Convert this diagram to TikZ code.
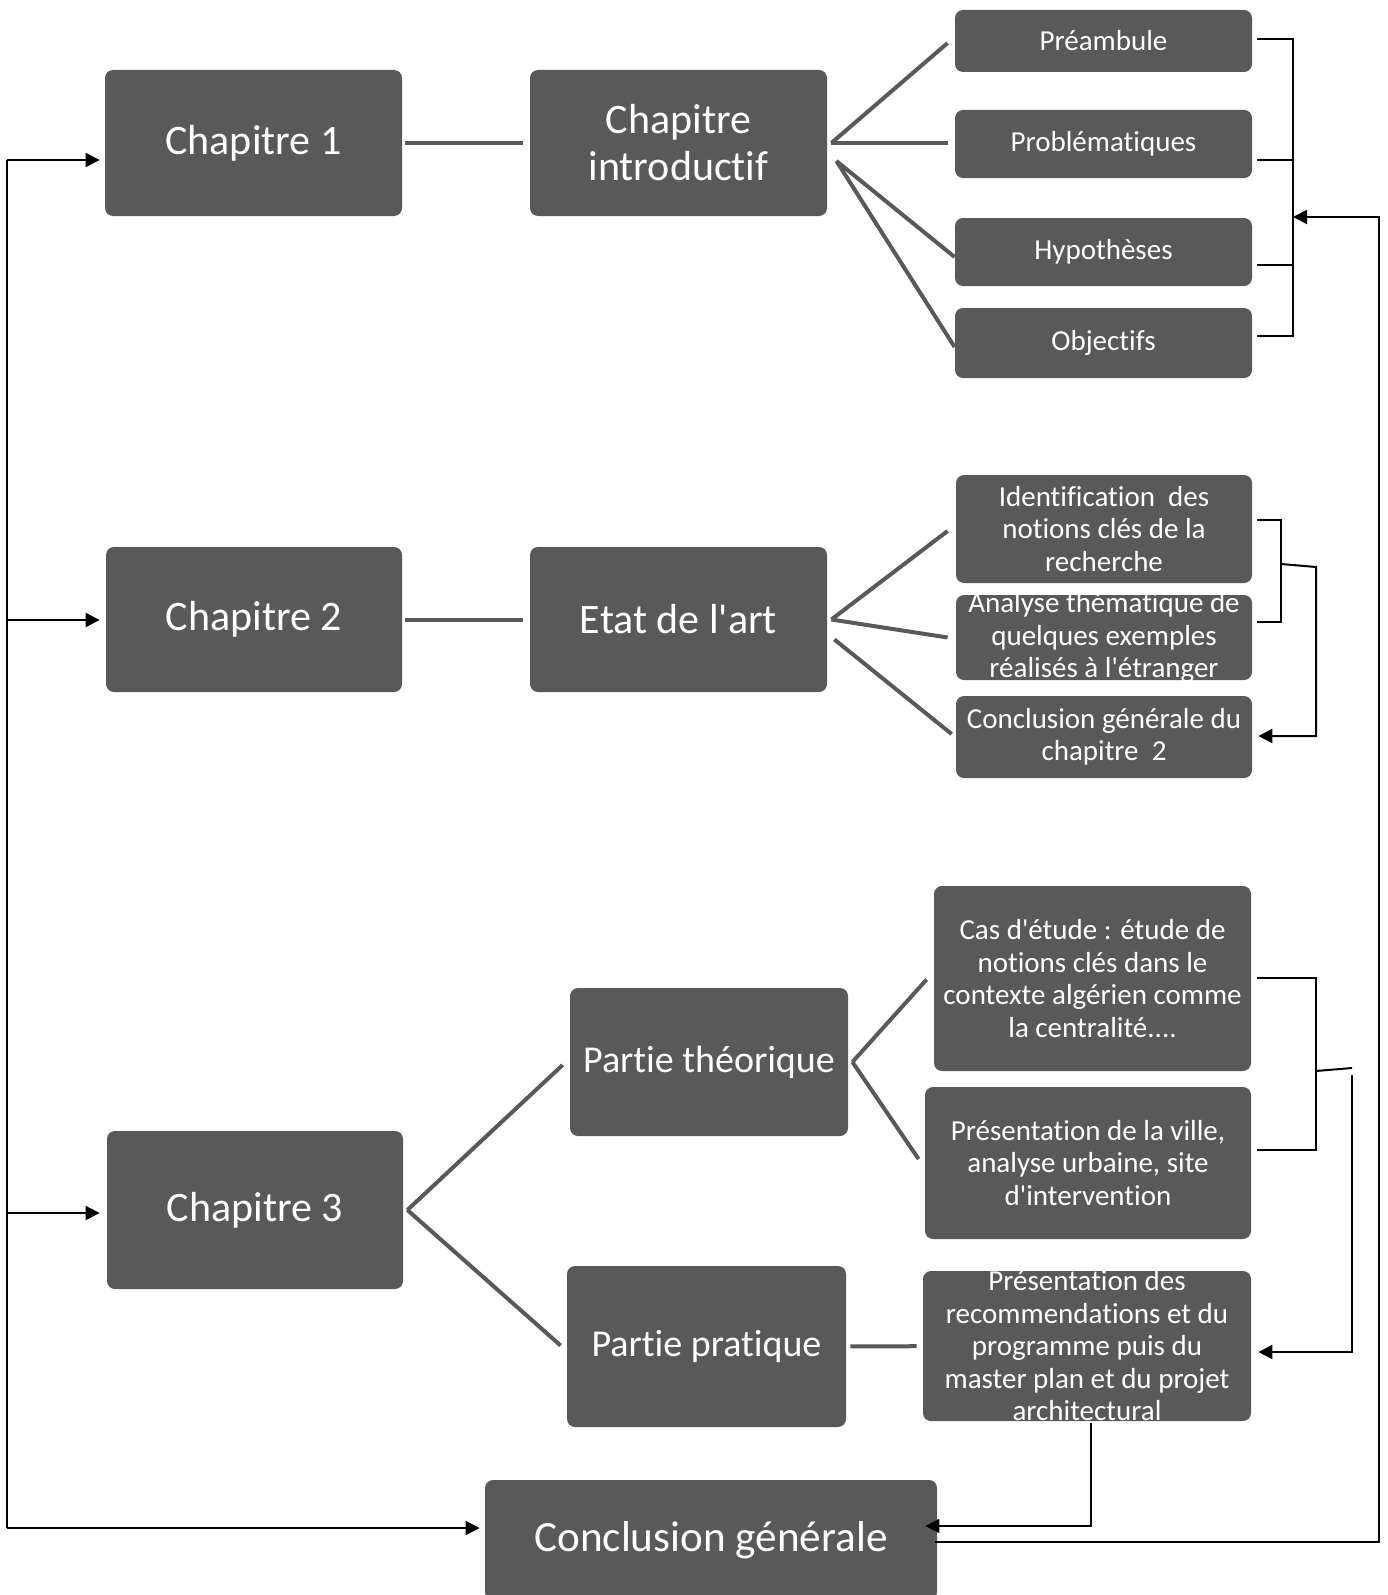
\documentclass[tikz,border=0pt]{standalone}
\usepackage{fontspec}
\setmainfont{Carlito}[Ligatures={TeXOff,CommonOff}]
\usetikzlibrary{arrows.meta}
\definecolor{boxgray}{HTML}{595959}
\begin{document}
\begin{tikzpicture}[x=0.5pt,y=-0.5pt,
  box/.style={fill=boxgray,rounded corners=4pt,inner sep=0pt,text=white,align=center},
  boxsize/.style 2 args={minimum width=#1*0.5pt,minimum height=#2*0.5pt},
  big/.style={font=\fontsize{21}{23.5}\selectfont},
  mid/.style={font=\fontsize{19}{21}\selectfont},
  small/.style={font=\fontsize{14.5}{16.25}\selectfont},
  link/.style={draw=boxgray,line width=2pt},
  wire/.style={draw=black,line width=1pt},
  headarrow/.style={-{Triangle[length=7pt,width=7pt]}}]
\useasboundingbox (0,0) rectangle (1387,1595);

\node[box,big,boxsize={297}{146}] (ch1) at (253.5,143) {Chapitre 1};
\node[box,big,boxsize={297}{146}] (intro) at (678.5,143) {Chapitre\\introductif};
\node[box,small,boxsize={297}{62}] (pre) at (1103.5,41) {Préambule};
\node[box,small,boxsize={297}{68}] (prob) at (1103.5,144) {Problématiques};
\node[box,small,boxsize={297}{68}] (hyp) at (1103.5,252) {Hypothèses};
\node[box,small,boxsize={297}{70}] (obj) at (1103.5,343) {Objectifs};

\node[box,big,boxsize={296}{145}] (ch2) at (254,619.5) {Chapitre 2};
\node[box,big,boxsize={297}{145}] (etat) at (678.5,619.5) {Etat de l'art};
\node[box,small,boxsize={296}{108}] (ident) at (1104,529) {Identification~ des\\notions clés de la\\recherche};
\node[box,boxsize={296}{85}] (analyse) at (1104,637.5) {};
\node[small,text=white,align=center] (analyse-txt) at (analyse) {Analyse thématique de\\quelques exemples\\réalisés à l'étranger};
\node[box,small,boxsize={296}{82}] (concl2) at (1104,737) {Conclusion générale du\\chapitre~ 2};

\node[box,big,boxsize={296}{158}] (ch3) at (255,1210) {Chapitre 3};
\node[box,mid,boxsize={278}{148}] (theo) at (709,1062) {Partie théorique};
\node[box,mid,boxsize={279}{161}] (prat) at (706.5,1346.5) {Partie pratique};
\node[box,small,boxsize={317}{185}] (cas) at (1092.5,978.5) {Cas d'étude : étude de\\notions clés dans le\\contexte algérien comme\\la centralité....};
\node[box,small,boxsize={326}{152}] (ville) at (1088,1163) {Présentation de la ville,\\analyse urbaine, site\\d'intervention};
\node[box,boxsize={328}{150}] (recom) at (1087,1346) {};
\node[small,text=white,align=center] (recom-txt) at (recom) {Présentation des\\recommendations et du\\programme puis du\\master plan et du projet\\architectural};
\node[box,font=\fontsize{21.6}{26}\selectfont,boxsize={452}{120}] (conclg) at (711,1540) {Conclusion générale};

\coordinate (introhi) at ([xshift=2pt]intro.east);
\coordinate (introlow) at ([shift={(9,18)}]intro.east);
\coordinate (etathi) at ([xshift=2pt]etat.east);
\coordinate (etatlow) at ([shift={(7,20)}]etat.east);
\coordinate (ch3e) at ([xshift=2pt]ch3.east);
\coordinate (theoe) at ([xshift=2pt]theo.east);

\draw[link,shorten <=1.5pt,shorten >=3.5pt] (ch1) -- (intro);
\draw[link] (introhi) -- ([shift={(-7,2)}]pre.west);
\draw[link] (introhi) -- ([shift={(-7,-1)}]prob.west);
\draw[link] (introlow) -- ([shift={(0,5)}]hyp.west);
\draw[link] (introlow) -- ([shift={(0,4)}]obj.west);

\draw[link,shorten <=1.5pt,shorten >=3.5pt] (ch2) -- (etat);
\draw[link] (etathi) -- ([shift={(-8,2)}]ident.west);
\draw[link] (etathi) -- ([shift={(-8,0)}]analyse.west);
\draw[link] (etatlow) -- ([shift={(-4,-3)}]concl2.west);

\draw[link] (ch3e) -- ([shift={(-7,3)}]theo.west);
\draw[link] (ch3e) -- ([shift={(-6,-1)}]prat.west);
\draw[link] (theoe) -- ([shift={(-7,1)}]cas.west);
\draw[link] (theoe) -- ([shift={(-6,-4)}]ville.west);
\draw[link,shorten <=2pt,shorten >=3pt] (prat) -- (recom);

\coordinate (topbar) at (1293,217);
\draw[wire] ([shift={(5,-2)}]pre.east) -- ++(36,0) |- ([shift={(5,-7)}]obj.east);
\draw[wire] ([shift={(5,16)}]prob.east) -- ++(36,0);
\draw[wire] ([shift={(5,13)}]hyp.east) -- ++(36,0);
\draw[wire,headarrow] ([shift={(-2,2)}]conclg.east) -| (1379,217) -- (topbar);

\draw[wire] ([shift={(5,-9)}]ident.east) -- ++(24,0) |- ([shift={(5,-15.5)}]analyse.east);
\coordinate (midbar) at (1281,564);
\draw[wire,headarrow] (midbar) -- (1316,567) |- ([shift={(6,-1)}]concl2.east);

\draw[wire] ([shift={(6,-0.5)}]cas.east) -- ++(59,0) |- ([shift={(6,-13)}]ville.east);
\coordinate (lowbar) at (1316,1071);
\draw[wire] (lowbar) -- (1352,1068);
\draw[wire,headarrow] (1352,1075) |- ([shift={(7,6)}]recom.east);
\draw[wire,headarrow] ([shift={(4,2)}]recom.south) |- ([shift={(-12,-14)}]conclg.east);

\coordinate (spinetop) at (7,160);
\coordinate (spinebot) at (7,1528);
\draw[wire] (spinetop) -- (spinebot);
\draw[wire,headarrow] (spinetop) -- ([shift={(-5,17)}]ch1.west);
\draw[wire,headarrow] (7,620) -- ([shift={(-6,0.5)}]ch2.west);
\draw[wire,headarrow] (7,1213) -- ([shift={(-7,3)}]ch3.west);
\draw[wire,headarrow] (spinebot) -- ([shift={(-5,-12)}]conclg.west);
\end{tikzpicture}
\end{document}
